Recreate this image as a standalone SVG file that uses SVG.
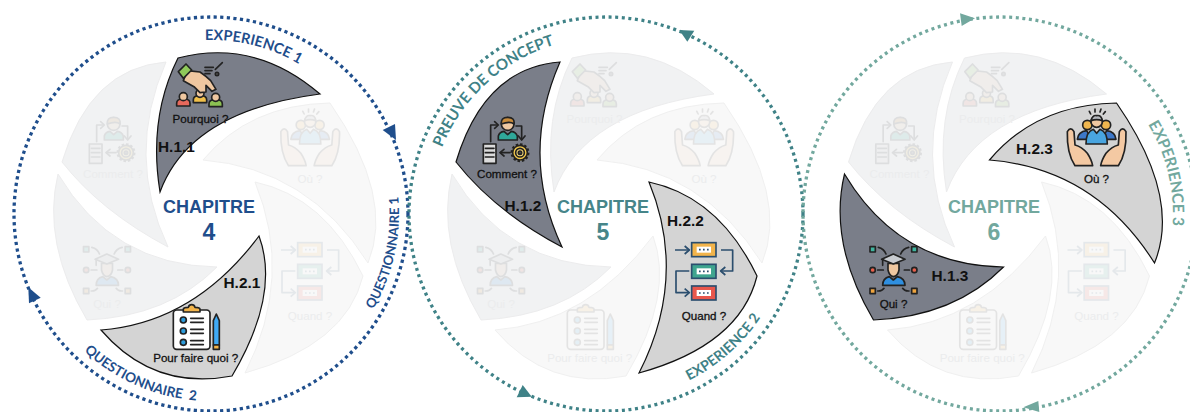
<svg xmlns="http://www.w3.org/2000/svg" width="1190" height="412" viewBox="0 0 1190 412">
<style>
.arc{font-family:Lato,"Open Sans",sans-serif;font-size:14.5px;font-weight:700;white-space:pre}
.ring{fill:none;stroke-width:3.3}
.chap{font-family:"Liberation Sans",Arial,sans-serif;font-weight:700;font-size:18px;text-anchor:middle}
.num{font-family:"Liberation Sans",Arial,sans-serif;font-weight:700;font-size:23px;text-anchor:middle}
.h{font-family:"Liberation Sans",Arial,sans-serif;font-weight:700;font-size:15.4px;fill:#111}
.lab{font-family:"Liberation Sans",Arial,sans-serif;font-size:11.6px;text-anchor:middle;fill:#111;stroke:#111;stroke-width:.3}
.fl{font-family:"Liberation Sans",Arial,sans-serif;font-size:11.6px;text-anchor:middle;fill:#ebeced}
.fb{fill:#f1f2f3;stroke:#ececed;stroke-width:1}
.fc{fill:#f8f8f8;stroke:#f0f0f0;stroke-width:1}
.dark{fill:#7a7e89;stroke:#111;stroke-width:1.2}
.light{fill:#d4d4d4;stroke:#111;stroke-width:1.2}
.fi{opacity:.09}
.k{stroke:#222;stroke-width:5;stroke-linejoin:round;stroke-linecap:round}
.n{fill:none;stroke:#222;stroke-width:5;stroke-linecap:round;stroke-linejoin:round}
.q{fill:none;stroke:#2b4e6e;stroke-width:5;stroke-linejoin:round}
.qb{stroke:#2b4e6e;stroke-width:5}
</style>
<defs>
<path id="a1" d="M205,40.1A174,174 0 0 1 320,78.4"/>
<path id="a2" d="M373,309.4A188,188 0 0 0 395,175.4"/>
<path id="a3" d="M84,351A187,187 0 0 0 215,401"/>
<path id="a4" d="M442,147.4A177,177 0 0 1 570,40.7"/>
<path id="a5" d="M689,380.5A186,186 0 0 0 775,291.7"/>
<path id="a6" d="M1148,124.4A173,173 0 0 1 1170,246"/>
<path id="p1" d="M178,58Q255,38 320,94Q190,111 160,192Q148,118 178,58Z"/>
<path id="p2" d="M330,103Q395,197 368,263Q308.5,168.5 203,160Q249.5,104.5 330,103Z"/>
<path id="p3" d="M255,182Q325,197 363,276Q346,345 245,373Q294,277 255,182Z"/>
<path id="p4" d="M259,236Q280.5,294 232,376Q153.5,391 101,330Q194,323 259,236Z"/>
<path id="p5" d="M58,174Q112.5,265.5 217,267Q168,316.5 87,320Q41.5,243 58,174Z"/>
<path id="p6" d="M166,62Q90,68 62,162Q101,211.5 168,247Q125,155.5 166,62Z"/>
<g id="person"><path class="k" d="M0,30V22Q0,10 15,9H25Q40,10 40,22V30Z"/><circle cx="20" cy="2" r="12" fill="#efc7a0" class="k"/></g>
<g id="i1" transform="translate(150 50) scale(.3333)">
<use href="#person" x="80" y="138" fill="#e8695c"/><use href="#person" x="130" y="128" fill="#f1c04b"/><use href="#person" x="177" y="140" fill="#8cc152"/>
<path class="k" fill="#efc7a0" d="M112,62L150,66Q168,78 182,92L198,118L186,124L168,106L168,126L150,128L132,110L100,92Z"/>
<path class="k" fill="#8fc95a" d="M85,65L108,42L125,60L100,85Z"/>
<path class="n" d="M165,52H190M165,62H186M165,71H180M196,58L217,38"/><circle cx="201" cy="72" r="5" fill="#666" class="k"/>
</g>
<g id="i2" transform="translate(263.5 100) scale(.3333)">
<path class="n" d="M122,42L118,34M135,36V27M150,36L153,27M160,42L166,35"/>
<path class="k" fill="#3d78c9" d="M82,118Q84,95 110,92L125,118ZM198,118Q196,95 170,92L155,118Z"/>
<circle cx="112" cy="75" r="14" fill="#efb64f" class="k"/><circle cx="168" cy="75" r="14" fill="#efb64f" class="k"/>
<path class="k" fill="#49a5e0" d="M108,132Q108,95 130,88L140,100L150,88Q172,95 172,132Z"/>
<circle cx="140" cy="65" r="17" fill="#efc7a0" class="k"/><path class="k" fill="#b4b7bd" d="M123,62Q128,44 140,47Q154,44 157,62Q140,56 123,62Z"/>
<path class="k" fill="#f4c9a3" d="M52,95Q62,78 72,95L75,135Q95,140 112,160Q125,180 128,197H75Q50,160 52,95Z"/>
<path class="k" fill="#f4c9a3" d="M228,95Q218,78 208,95L205,135Q185,140 168,160Q155,180 152,197H205Q230,160 228,95Z"/>
</g>
<g id="i3" transform="translate(266 230) scale(.3333)">
<path class="q" d="M45,60H85M183,60H218V123H185M88,123H48V188H85"/>
<path class="q" d="M74,48L88,60L74,72M196,111L182,123L196,135M74,176L88,188L74,200"/>
<rect x="95" y="38" width="73" height="42" fill="#f2b44b" class="qb"/><rect x="95" y="103" width="73" height="42" fill="#3fa58f" class="qb"/><rect x="95" y="168" width="73" height="42" fill="#e9574c" class="qb"/>
<rect x="110" y="50" width="43" height="18" fill="#fff"/><rect x="110" y="115" width="43" height="18" fill="#fff"/><rect x="110" y="180" width="43" height="18" fill="#fff"/>
<path stroke="#2b4e6e" stroke-width="5" stroke-dasharray="5 7" d="M117,59H148M117,124H148M117,189H148"/>
</g>
<g id="i4" transform="translate(140 290) scale(.3333)">
<rect x="100" y="60" width="110" height="118" rx="10" fill="#fff" class="k"/>
<path class="k" fill="#f2b44b" d="M130,66V58Q130,52 145,52Q147,44 155,44Q163,44 165,52Q180,52 180,58V66Z"/>
<circle cx="130" cy="90" r="9" fill="#2d9cdb" class="k"/><circle cx="130" cy="123" r="9" fill="#2d9cdb" class="k"/><circle cx="130" cy="157" r="9" fill="#2d9cdb" class="k"/>
<path class="n" d="M152,85H190M152,97H190M152,118H190M152,130H190M152,152H190M152,164H190"/>
<path class="k" fill="#3fa9f5" d="M220,92L229,72L238,92V165H220Z"/><path class="k" fill="#f2b44b" d="M220,165H238V178H220Z"/>
</g>
<g id="i5" transform="translate(66 100) scale(.3333)">
<path class="k" fill="#2fa89a" d="M115,120V108Q118,96 132,94L143,104L154,94Q168,96 172,108V120Z"/>
<circle cx="143" cy="72" r="19" fill="#f0c9a2" class="k"/><path class="k" fill="#c98c3c" d="M124,72Q122,52 143,52Q165,52 162,72Q150,62 124,72Z"/>
<path class="n" d="M92,125V75H112M168,78H185V118M150,158H122"/>
<path class="n" d="M104,65L115,75L104,85M175,108L185,120L195,108M132,148L120,158L132,168"/>
<rect x="70" y="132" width="38" height="58" fill="#dcdcdc" class="k"/><path class="n" d="M76,145H102M76,158H102M76,171H102"/>
<circle cx="180" cy="158" r="24" fill="#f2c84b" stroke="#222" stroke-width="9" stroke-dasharray="7 5.5"/><circle cx="180" cy="158" r="22" fill="#f2c84b" class="k"/><circle cx="180" cy="158" r="13" fill="#f5d97a" class="k"/><circle cx="180" cy="158" r="5" fill="#555" class="k"/>
</g>
<g id="i6" transform="translate(73.5 230) scale(.3333)">
<path class="n" d="M55,52Q72,56 78,72M146,52Q128,56 122,72M53,120H70M133,120H148M53,183Q66,184 72,175M147,183Q134,184 128,175"/>
<rect x="30" y="50" width="16" height="16" fill="#3fb5a0" class="k"/><rect x="155" y="50" width="16" height="16" fill="#3fb5a0" class="k"/><rect x="30" y="175" width="16" height="16" fill="#efa53f" class="k"/><rect x="155" y="175" width="16" height="16" fill="#efa53f" class="k"/>
<circle cx="38" cy="120" r="8" fill="#e8604c" class="k"/><circle cx="163" cy="120" r="8" fill="#e8604c" class="k"/>
<path class="k" fill="#2f8fe0" d="M68,166Q68,145 88,140L100,150L112,140Q135,145 135,166Z"/>
<path class="k" fill="#efc7a0" d="M84,100V120Q88,138 100,140Q114,138 117,120V100Z"/>
<path class="k" fill="#c9ccd1" d="M65,88L100,72L135,88L100,102Z"/><path class="n" d="M68,90V106"/>
</g>
</defs>

<g id="connectors">
<circle class="ring" cx="211" cy="214" r="197" stroke="#1f4e8c" stroke-dasharray="3.2 3.4"/>
<circle class="ring" cx="606" cy="214" r="197" stroke="#3f8287" stroke-dasharray="3 3.6"/>
<circle class="ring" cx="1000" cy="214" r="197" stroke="#72a89e" stroke-dasharray="3 3.6"/>
<polygon fill="#1f4e8c" points="382.7,130 395,124 396,140"/>
<polygon fill="#1f4e8c" points="28.3,287.3 40.7,297.7 29,303.3"/>
<polygon fill="#3f8287" points="679.3,30 694.3,30.7 687.3,41.7"/>
<polygon fill="#3f8287" points="516.7,397.3 531.7,396.7 522.7,385"/>
<polygon fill="#72a89e" points="960,13.3 975,18.3 961.7,26"/>
<polygon fill="#72a89e" points="1023.3,407.3 1038.3,401 1039.3,412"/>
</g>

<g id="wheel-4">
<use href="#p2" class="fc"/><use href="#p3" class="fc"/><use href="#p5" class="fb"/><use href="#p6" class="fb"/>
<use href="#i2" class="fi"/><use href="#i3" class="fi"/><use href="#i5" class="fi"/><use href="#i6" class="fi"/>
<text class="fl" x="310" y="183">Où ?</text><text class="fl" x="310" y="320">Quand ?</text><text class="fl" x="107" y="308">Qui ?</text><text class="fl" x="113" y="178">Comment ?</text>
<g id="h11"><use href="#p1" class="dark"/><use href="#i1"/><text class="lab" x="200.5" y="123">Pourquoi ?</text><text class="h" x="158" y="152">H.1.1</text></g>
<g id="h21"><use href="#p4" class="light"/><use href="#i4"/><text class="lab" x="195.7" y="362">Pour faire quoi ?</text><text class="h" x="223.5" y="288">H.2.1</text></g>
<g id="chapitre-4" fill="#1f4e8c"><text class="chap" x="209" y="213">CHAPITRE</text><text class="num" x="209" y="240">4</text></g>
</g>

<g id="wheel-5" transform="translate(394 0)">
<use href="#p1" class="fb"/><use href="#p2" class="fc"/><use href="#p4" class="fc"/><use href="#p5" class="fb"/>
<use href="#i1" class="fi"/><use href="#i2" class="fi"/><use href="#i4" class="fi"/><use href="#i6" class="fi"/>
<text class="fl" x="200.5" y="123">Pourquoi ?</text><text class="fl" x="310" y="183">Où ?</text><text class="fl" x="195.7" y="362">Pour faire quoi ?</text><text class="fl" x="107" y="308">Qui ?</text>
<g id="h12"><use href="#p6" class="dark"/><use href="#i5"/><text class="lab" x="113" y="178">Comment ?</text><text class="h" x="110.5" y="211">H.1.2</text></g>
<g id="h22"><use href="#p3" class="light"/><use href="#i3"/><text class="lab" x="310" y="320">Quand ?</text><text class="h" x="273" y="226">H.2.2</text></g>
<g id="chapitre-5" fill="#468589"><text class="chap" x="209" y="213">CHAPITRE</text><text class="num" x="209" y="240">5</text></g>
</g>

<g id="wheel-6" transform="translate(786.5 0)">
<use href="#p1" class="fb"/><use href="#p3" class="fc"/><use href="#p4" class="fc"/><use href="#p6" class="fb"/>
<use href="#i1" class="fi"/><use href="#i3" class="fi"/><use href="#i4" class="fi"/><use href="#i5" class="fi"/>
<text class="fl" x="200.5" y="123">Pourquoi ?</text><text class="fl" x="310" y="320">Quand ?</text><text class="fl" x="195.7" y="362">Pour faire quoi ?</text><text class="fl" x="113" y="178">Comment ?</text>
<g id="h13"><use href="#p5" class="dark"/><use href="#i6"/><text class="lab" x="107" y="308">Qui ?</text><text class="h" x="145" y="281">H.1.3</text></g>
<g id="h23"><use href="#p2" class="light"/><use href="#i2"/><text class="lab" x="310" y="183">Où ?</text><text class="h" x="229.5" y="154">H.2.3</text></g>
<g id="chapitre-6" fill="#72a89e"><text class="chap" x="207.5" y="213">CHAPITRE</text><text class="num" x="207.5" y="240">6</text></g>
</g>

<g id="arc-labels">
<text class="arc" fill="#1f4e8c"><textPath href="#a1">EXPERIENCE 1</textPath></text>
<text class="arc" fill="#1f4e8c" style="font-size:13.1px"><textPath href="#a2">QUESTIONNAIRE 1</textPath></text>
<text class="arc" fill="#1f4e8c" style="font-size:13.6px"><textPath href="#a3">QUESTIONNAIRE  2</textPath></text>
<text class="arc" fill="#3f8287" style="font-size:15.2px"><textPath href="#a4">PREUVE DE CONCEPT</textPath></text>
<text class="arc" fill="#3f8287" style="font-size:14.2px"><textPath href="#a5">EXPERIENCE 2</textPath></text>
<text class="arc" fill="#72a89e" style="font-size:15.6px"><textPath href="#a6">EXPERIENCE 3</textPath></text>
</g>
</svg>
